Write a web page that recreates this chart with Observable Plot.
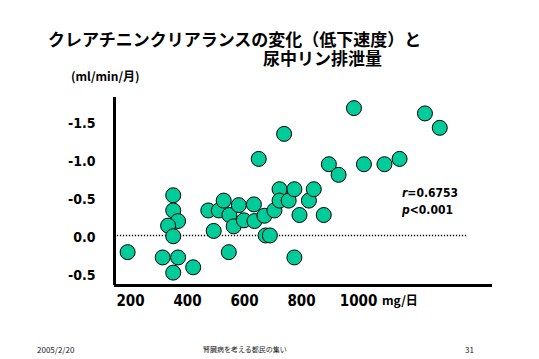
<!DOCTYPE html>
<html><head><meta charset="utf-8">
<script src="https://cdn.jsdelivr.net/npm/d3@7"></script>
<script src="https://cdn.jsdelivr.net/npm/@observablehq/plot@0.6"></script>
<style>
body{margin:0;background:#fff;}
#wrap{position:relative;width:539px;height:359px;overflow:hidden;}
#chart{position:absolute;left:0;top:0;}
.t{position:absolute;white-space:nowrap;color:#000;line-height:1;}
.jp{font-family:"Noto Sans CJK JP","Noto Sans",sans-serif;}
.num{font-family:"DejaVu Sans Condensed","Liberation Sans Narrow","DejaVu Sans",sans-serif;font-weight:bold;}
</style></head><body><div id="wrap">
<div id="chart"></div>
<div class="t jp" style="left:48px;top:30px;font-size:17px;font-weight:bold;line-height:18.5px;">クレアチニンクリアランスの変化（低下速度）と<br><span style="padding-left:215px">尿中リン排泄量</span></div>
<div class="t jp" style="left:71px;top:70px;font-size:12px;font-weight:bold;">(ml/min/月)</div>
<div class="t jp" style="left:382px;top:294px;font-size:12px;font-weight:bold;">mg/日</div>
<div class="t num" style="left:402px;top:187px;font-size:12px;"><i>r</i>=0.6753</div>
<div class="t num" style="left:402px;top:204px;font-size:12px;"><i>p</i>&lt;0.001</div>
<div class="t jp" style="left:37px;top:346px;font-size:8px;color:#222;">2005/2/20</div>
<div class="t jp" style="left:203px;top:346px;font-size:7px;color:#222;">腎臓病を考える都民の集い</div>
<div class="t jp" style="left:465px;top:346px;font-size:8px;color:#222;">31</div>
</div>
<script>
// urinary phosphorus excretion (mg/day)
const xValues = [190,313,367,350,420,350,350,367,332,350,473,492,545,510,527,547,562,580,598,633,635,650,674,689,670,705,739,723,723,755,775,775,793,826,843,878,896,930,984,1019,1091,1144,1233,1285];
// creatinine clearance change (ml/min/month)
const yValues = [0.22,0.29,0.29,0.49,0.42,-0.53,-0.33,-0.19,-0.13,0.01,-0.33,-0.06,0.22,-0.33,-0.46,-0.27,-0.12,-0.40,-0.20,-0.41,-0.19,-1.01,0.0,0.0,-0.26,-0.33,-1.34,-0.61,-0.46,-0.46,-0.61,0.29,-0.27,-0.46,-0.61,-0.27,-0.94,-0.80,-1.68,-0.94,-0.94,-1.01,-1.61,-1.42];
const xTicks = [200,400,600,800,1000];
const xTickLabels = ["200","400","600","800","1000"];
const yTicks = [-1.5,-1.0,-0.5,0,0.5];
const yTickLabels = ["-1.5","-1.0","-0.5","0.0","-0.5"];
const xDomain = [144,1470];
const yDomain = [-1.82,0.66];
const refLine = {y:0, from:154, to:1382};

const points = xValues.map((x,i)=>({x, y:yValues[i]}));

const chart = Plot.plot({
  width:539, height:359,
  marginLeft:114, marginRight:47, marginTop:97, marginBottom:74,
  x:{domain:xDomain, label:null},
  y:{domain:yDomain, reverse:true, label:null},
  style:{fontFamily:'"DejaVu Sans Condensed","Liberation Sans Narrow","DejaVu Sans",sans-serif', fontWeight:"bold", color:"#000", background:"transparent", overflow:"visible"},
  marks:[
    Plot.ruleY([refLine.y], {x1:refLine.from, x2:refLine.to, stroke:"#000", strokeWidth:1.5, strokeDasharray:"1.3,1.7"}),
    Plot.dot(points, {x:"x", y:"y", r:7.5, fill:"#00cc99", stroke:"#000", strokeWidth:1}),
    Plot.ruleX([xDomain[0]], {stroke:"#000", strokeWidth:3}),
    Plot.ruleY([yDomain[1]], {stroke:"#000", strokeWidth:3}),
    Plot.axisY({ticks:yTicks, tickFormat:d=>yTickLabels[yTicks.indexOf(d)], tickSize:0, tickPadding:19, fontSize:14, dy:2, label:null}),
    Plot.axisX({ticks:xTicks, tickFormat:d=>xTickLabels[xTicks.indexOf(d)], tickSize:0, tickPadding:10, fontSize:15, label:null})
  ]
});
document.getElementById("chart").appendChild(chart);
</script>
</body></html>
